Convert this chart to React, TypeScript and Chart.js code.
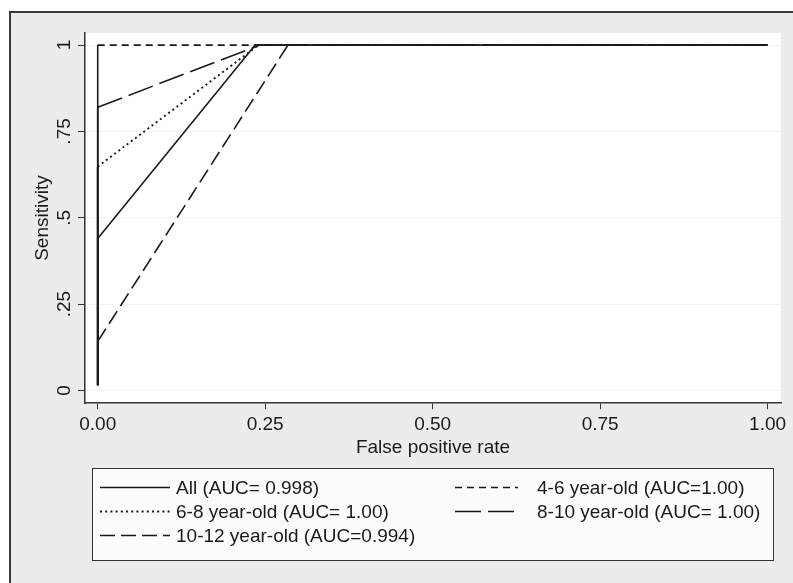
import React, { useEffect, useRef } from "react";
import { Chart, registerables } from "chart.js";

Chart.register(...registerables);

// ---- data ----
const seriesLabels = [
  "All (AUC= 0.998)",
  "4-6 year-old (AUC=1.00)",
  "6-8 year-old (AUC= 1.00)",
  "8-10 year-old (AUC= 1.00)",
  "10-12 year-old (AUC=0.994)",
];
const fprAll = [0, 0, 0.235, 1];
const sensAll = [0.015, 0.44, 1, 1];
const fpr46 = [0, 0, 1];
const sens46 = [0.015, 1, 1];
const fpr68 = [0, 0, 0.24, 1];
const sens68 = [0.015, 0.648, 1, 1];
const fpr810 = [0, 0, 0.242, 1];
const sens810 = [0.015, 0.82, 1, 1];
const fpr1012 = [0, 0, 0.284, 1];
const sens1012 = [0.015, 0.142, 1, 1];

const xTickValues = [0, 0.25, 0.5, 0.75, 1];
const xTickLabels = ["0.00", "0.25", "0.50", "0.75", "1.00"];
const yTickValues = [0, 0.25, 0.5, 0.75, 1];
const yTickLabels = ["0", ".25", ".5", ".75", "1"];
const xTitle = "False positive rate";
const yTitle = "Sensitivity";

// ---- styles ----
const FONT = "'Liberation Sans', Arial, sans-serif";
const INK = "#1a1a1a";
const dashes: number[][] = [[], [7, 5], [2, 3.2], [26, 7], [15, 6]];
const widths = [1.6, 1.6, 1.9, 1.6, 1.6];

const pairs = (xs: number[], ys: number[]) => xs.map((x, i) => ({ x, y: ys[i] }));
const seriesData = [
  pairs(fprAll, sensAll),
  pairs(fpr46, sens46),
  pairs(fpr68, sens68),
  pairs(fpr810, sens810),
  pairs(fpr1012, sens1012),
];

const bgPlugin = {
  id: "stataBg",
  beforeDraw(chart: any) {
    const { ctx, width, height, chartArea } = chart;
    ctx.save();
    ctx.fillStyle = "#ffffff";
    ctx.fillRect(0, 0, width, height);
    ctx.fillStyle = "#ececec";
    ctx.fillRect(10, 12, width - 10, height - 12);
    ctx.fillStyle = "#ffffff";
    ctx.fillRect(chartArea.left, chartArea.top, chartArea.right - chartArea.left, chartArea.bottom - chartArea.top);
    ctx.strokeStyle = "#3a3a3a";
    ctx.lineWidth = 2;
    ctx.beginPath();
    ctx.moveTo(10, height);
    ctx.lineTo(10, 12);
    ctx.lineTo(width, 12);
    ctx.stroke();
    ctx.restore();
  },
};

const legendPlugin = {
  id: "boxLegend",
  afterDraw(chart: any) {
    const { ctx } = chart;
    const box = { left: 92, top: 468, right: 773, bottom: 560 };
    ctx.save();
    ctx.fillStyle = "#fcfcfc";
    ctx.fillRect(box.left, box.top, box.right - box.left, box.bottom - box.top);
    ctx.strokeStyle = "#333333";
    ctx.lineWidth = 1;
    ctx.strokeRect(box.left + 0.5, box.top + 0.5, box.right - box.left, box.bottom - box.top);
    const sampleX0 = [100, 455];
    const sampleX1 = [170, 518];
    const textX = [176, 537];
    ctx.font = `19px ${FONT}`;
    ctx.textBaseline = "middle";
    ctx.textAlign = "left";
    chart.data.datasets.forEach((ds: any, i: number) => {
      const col = i % 2;
      const row = Math.floor(i / 2);
      const y = 487.5 + row * 24;
      ctx.strokeStyle = ds.borderColor;
      ctx.lineWidth = ds.borderWidth;
      ctx.setLineDash(ds.borderDash || []);
      ctx.beginPath();
      ctx.moveTo(sampleX0[col], y);
      ctx.lineTo(sampleX1[col], y);
      ctx.stroke();
      ctx.setLineDash([]);
      ctx.fillStyle = INK;
      ctx.fillText(ds.label, textX[col], y + 1);
    });
    ctx.restore();
  },
};

export default function App() {
  const ref = useRef<HTMLCanvasElement | null>(null);
  useEffect(() => {
    document.body.style.margin = "0";
    const canvas = ref.current;
    if (!canvas) return;
    const chart = new Chart(canvas, {
      type: "scatter",
      data: {
        datasets: seriesData.map((d, i) => ({
          label: seriesLabels[i],
          data: d,
          showLine: true,
          borderColor: INK,
          backgroundColor: INK,
          borderWidth: widths[i],
          borderDash: dashes[i],
          // Stata restarts the dash pattern on each short step, so the steps along x = 0 read as solid
          segment: {
            borderDash: (c: any) => (c.p0.parsed.x === c.p1.parsed.x ? [] : undefined),
          },
          pointRadius: 0,
          pointHoverRadius: 0,
          tension: 0,
          fill: false,
        })),
      },
      options: {
        animation: false,
        responsive: false,
        events: [],
        layout: { padding: { top: 33, right: 12, bottom: 124, left: 0 } },
        plugins: {
          legend: { display: false },
          tooltip: { enabled: false },
        },
        scales: {
          x: {
            type: "linear",
            min: -0.019,
            max: 1.02,
            afterBuildTicks: (s: any) => {
              s.ticks = xTickValues.map((v) => ({ value: v }));
            },
            ticks: {
              callback: (v: any) => xTickLabels[xTickValues.indexOf(Number(v))] ?? "",
              color: INK,
              font: { family: FONT, size: 19, lineHeight: 1.0 },
              padding: 6,
              maxRotation: 0,
              autoSkip: false,
            },
            grid: { drawOnChartArea: false, drawTicks: true, tickLength: 6, tickColor: "#333", tickWidth: 1 },
            border: { display: true, color: "#333", width: 1.5 },
            title: {
              display: true,
              text: xTitle,
              color: INK,
              font: { family: FONT, size: 19 },
              padding: { top: -4, bottom: 0 },
            },
          },
          y: {
            type: "linear",
            min: -0.037,
            max: 1.035,
            afterBuildTicks: (s: any) => {
              s.ticks = yTickValues.map((v) => ({ value: v }));
            },
            afterFit: (s: any) => {
              s.width = 85;
            },
            ticks: {
              callback: (v: any) => yTickLabels[yTickValues.indexOf(Number(v))] ?? "",
              color: INK,
              font: { family: FONT, size: 19 },
              padding: 0,
              minRotation: 90,
              maxRotation: 90,
              crossAlign: "center",
              autoSkip: false,
            },
            grid: {
              drawOnChartArea: true,
              color: "#f3f3f3",
              drawTicks: true,
              tickLength: 7,
              tickColor: "#333",
              tickWidth: 1,
            },
            border: { display: true, color: "#333", width: 1.5 },
            title: {
              display: true,
              text: yTitle,
              color: INK,
              font: { family: FONT, size: 19 },
              padding: { top: 31, bottom: 0 },
            },
          },
        },
      } as any,
      plugins: [bgPlugin, legendPlugin],
    });
    return () => chart.destroy();
  }, []);
  return <canvas ref={ref} width={793} height={583} style={{ display: "block" }} />;
}
